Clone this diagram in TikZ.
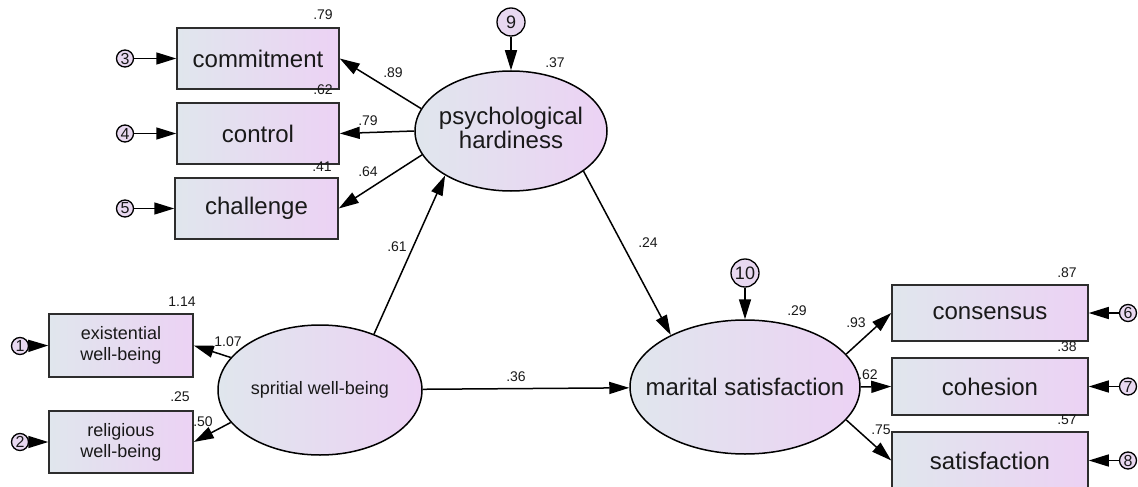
\documentclass[tikz,border=0pt]{standalone}
\usepackage{fontspec}
\setmainfont{Liberation Sans}
\usetikzlibrary{arrows.meta,shapes.geometric}
\definecolor{fillL}{RGB}{224,230,237}
\definecolor{fillR}{RGB}{236,210,244}
\definecolor{circfill}{RGB}{232,216,240}
\definecolor{bord}{RGB}{45,45,45}
\definecolor{txt}{RGB}{25,25,25}
\newcommand{\zw}[1]{\makebox[0pt][c]{#1}}
\begin{document}
\begin{tikzpicture}[x=1pt,y=-1pt,
  obsbox/.style={draw=bord,line width=1.5pt,rectangle,left color=fillL,right color=fillR,inner sep=0pt,text=txt,align=center},
  bigtxt/.style={font=\fontsize{24}{26}\selectfont},
  midtxt/.style={font=\fontsize{18}{21}\selectfont},
  latent/.style={draw=black,line width=1.5pt,ellipse,left color=fillL,right color=fillR,inner sep=0pt,text=txt},
  errsmall/.style={draw=black,line width=1.3pt,circle,fill=circfill,inner sep=0pt,minimum size=17pt,font=\fontsize{16}{16}\selectfont,text=txt},
  errbig/.style={draw=black,line width=1.3pt,circle,fill=circfill,inner sep=0pt,minimum size=28pt,font=\fontsize{18}{18}\selectfont,text=txt},
  lab/.style={inner sep=0pt,font=\fontsize{14}{14}\selectfont,text=txt},
  arr/.style={line width=1.5pt,-{Triangle[length=20pt,width=12pt]}}]
\useasboundingbox (0,0) rectangle (1138,487);
% observed boxes left
\node[obsbox,bigtxt,minimum width=162pt,minimum height=61pt] (commit) at (258,58.5) {commitment};
\node[obsbox,bigtxt,minimum width=162pt,minimum height=61pt] (control) at (258,133.5) {control};
\node[obsbox,bigtxt,minimum width=163pt,minimum height=61pt] (chall) at (256.5,208.5) {challenge};
\node[obsbox,midtxt,minimum width=144pt,minimum height=63pt] (exist) at (121,345.5) {existential\\well-being};
\node[obsbox,midtxt,minimum width=144pt,minimum height=62pt] (relig) at (121,442) {religious\\well-being};
% observed boxes right
\node[obsbox,bigtxt,minimum width=196pt,minimum height=56pt] (cons) at (990,313) {consensus};
\node[obsbox,bigtxt,minimum width=196pt,minimum height=57pt] (coh) at (990,386.5) {cohesion};
\node[obsbox,bigtxt,minimum width=196pt,minimum height=57pt] (satis) at (990,460.5) {satisfaction};
% latent
\node[latent,bigtxt,minimum width=192pt,minimum height=120pt] (psy) at (511,131)
  {\zw{\begin{tabular}{@{}c@{}}psychological\\[-2pt]hardiness\end{tabular}}};
\node[latent,midtxt,minimum width=204pt,minimum height=130pt] (spir) at (320,390) {\zw{spritial well-being}};
\node[latent,bigtxt,minimum width=230pt,minimum height=134pt] (mar) at (745,387) {\zw{marital satisfaction}};
% errors
\node[errsmall] (c1) at (20,346) {1};
\node[errsmall] (c2) at (20,442) {2};
\node[errsmall] (c3) at (125,58.5) {3};
\node[errsmall] (c4) at (125,133.5) {4};
\node[errsmall] (c5) at (125,208.5) {5};
\node[errsmall] (c6) at (1128,313) {6};
\node[errsmall] (c7) at (1128,386.5) {7};
\node[errsmall] (c8) at (1128,460.5) {8};
\node[errbig] (e9) at (511,22) {9};
\node[errbig] (e10) at (745,273) {10};
% error arrows
\draw[arr] (c1) -- (exist.west);
\draw[arr] (c2) -- (relig.west);
\draw[arr] (c3) -- (commit.west);
\draw[arr] (c4) -- (control.west);
\draw[arr] (c5) -- (chall.west);
\draw[arr] (c6) -- (cons.east);
\draw[arr] (c7) -- (coh.east);
\draw[arr] (c8) -- (satis.east);
\draw[arr] (e9) -- (psy.north);
\draw[arr] (e10) -- (mar.north);
% structural paths
\draw[arr] (psy.166) -- (commit.east);
\draw[arr] (psy.180) -- (control.east);
\draw[arr] (psy.195) -- (chall.east);
\draw[arr] (spir.160) -- (exist.east);
\draw[arr] (spir.200) -- (relig.east);
\draw[arr] (spir.46) -- (psy.214);
\draw[arr] (spir) -- (mar);
\draw[arr] (psy.331) -- (mar.145);
\draw[arr] (mar.18) -- (cons.west);
\draw[arr] (mar.east) -- (coh.west);
\draw[arr] (mar.342) -- (satis.west);
% labels
\node[lab] (l1) at (323,15) {.79};
\node[lab] (l2) at (323,90) {.62};
\node[lab] (l3) at (322,167) {.41};
\node[lab] (l4) at (393,73) {.89};
\node[lab] (l5) at (368,121) {.79};
\node[lab] (l6) at (368,172) {.64};
\node[lab] (l7) at (182,302) {1.14};
\node[lab] (l8) at (228,342) {1.07};
\node[lab] (l9) at (180,397) {.25};
\node[lab] (l10) at (203,422) {.50};
\node[lab] (l11) at (397,247) {.61};
\node[lab] (l12) at (555,63) {.37};
\node[lab] (l13) at (648,243) {.24};
\node[lab] (l14) at (516,377) {.36};
\node[lab] (l15) at (797,311) {.29};
\node[lab] (l16) at (856,323) {.93};
\node[lab] (l17) at (868,375) {.62};
\node[lab] (l18) at (881,430) {.75};
\node[lab] (l19) at (1067,273) {.87};
\node[lab] (l20) at (1067,347) {.38};
\node[lab] (l21) at (1067,420) {.57};
\end{tikzpicture}
\end{document}
